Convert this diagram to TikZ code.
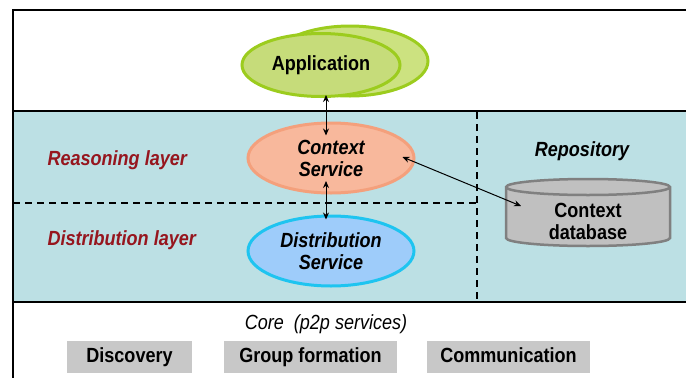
\documentclass[tikz,border=0pt]{standalone}
\usepackage{fontspec}
\setmainfont[FakeStretch=0.88]{Liberation Sans}
\usetikzlibrary{shapes.geometric,arrows.meta}
\definecolor{band}{RGB}{188,224,228}
\definecolor{appfill}{RGB}{198,220,122}
\definecolor{appback}{RGB}{204,226,128}
\definecolor{appline}{RGB}{156,204,30}
\definecolor{ctxfill}{RGB}{248,184,156}
\definecolor{ctxline}{RGB}{244,160,124}
\definecolor{disfill}{RGB}{158,204,250}
\definecolor{disline}{RGB}{30,196,240}
\definecolor{dbfill}{RGB}{192,192,192}
\definecolor{dbline}{RGB}{128,128,128}
\definecolor{boxfill}{RGB}{200,200,200}
\definecolor{layred}{RGB}{150,22,30}
\newcommand{\bigf}{\fontsize{20.5}{22}\selectfont}
\tikzset{
  ell/.style={ellipse, line width=3pt, inner sep=0pt, align=center},
  layer/.style={anchor=west, text=layred, font=\bigf\bfseries\itshape},
  corebox/.style={fill=boxfill, inner sep=0pt, minimum height=32pt, text height=14.5pt, text depth=4pt, font=\bigf\bfseries},
  arr/.style={{Stealth[length=7pt,width=6pt]}-{Stealth[length=7pt,width=6pt]}, line width=1pt},
  frame/.style={line width=2.5pt},
  dashline/.style={line width=1.5pt, dash pattern=on 7pt off 5pt}
}
\begin{document}
\begin{tikzpicture}[x=1pt,y=-1pt]
\useasboundingbox (0,0) rectangle (686,378);
% band
\fill[band] (13,111) rectangle (686,302);
% frame
\draw[frame] (686,10) -- (13,10) -- (13,378);
\draw[frame] (13,111) -- (686,111);
\draw[frame] (13,302) -- (686,302);
% dashed separators
\draw[dashline] (13,203) -- (477,203);
\draw[dashline] (477,112) -- (477,301);
% application
\node[ell, fill=appback, draw=appline, minimum width=156pt, minimum height=70pt] (appb) at (350,61) {};
\node[ell, fill=appfill, draw=appline, minimum width=158pt, minimum height=63pt, font=\bigf\bfseries] (app) at (321,65) {Application};
% context service
\node[ell, fill=ctxfill, draw=ctxline, minimum width=166pt, minimum height=70pt, font=\bigf\bfseries\itshape] (ctx) at (331,158) {Context\\Service};
% distribution service
\node[ell, fill=disfill, draw=disline, minimum width=166pt, minimum height=70pt, font=\bigf\bfseries\itshape] (dis) at (331,251) {Distribution\\Service};
% layer labels
\node[layer] (reas) at (44,160) {Reasoning layer};
\node[layer] (distl) at (44,240) {Distribution layer};
% repository
\node[font=\bigf\bfseries\itshape] (repo) at (582,151) {Repository};
\draw[fill=dbfill, draw=dbline, line width=2.5pt] (506,187) -- (506,238) arc[start angle=180, end angle=360, x radius=82pt, y radius=8pt] -- (670,187) arc[start angle=0, end angle=180, x radius=82pt, y radius=8pt] -- cycle;
\draw[draw=dbline, line width=2.5pt] (670,187) arc[start angle=0, end angle=-180, x radius=82pt, y radius=8pt];
\node[align=center, font=\bigf\bfseries] (db) at (588,221) {Context\\database};
% arrows
\draw[arr] ([xshift=5pt,yshift=3pt]app.south) -- ([xshift=-5pt,yshift=-14pt]ctx.north);
\draw[arr] ([xshift=-5pt,yshift=-23pt]ctx.center) -- ([xshift=-5pt,yshift=-5pt]dis.north);
\draw[arr] ([xshift=-13pt,yshift=1pt]ctx.east) -- ([xshift=-67pt,yshift=15pt]db.center);
% core
\node[font=\bigf\itshape] (core) at (326,324) {Core\ \ (p2p services)};
\node[corebox, minimum width=125pt] (disc) at (129.5,357) {Discovery};
\node[corebox, minimum width=173pt] (grp) at (310.5,357) {Group formation};
\node[corebox, minimum width=163pt] (comm) at (508.5,357) {Communication};
\end{tikzpicture}
\end{document}
